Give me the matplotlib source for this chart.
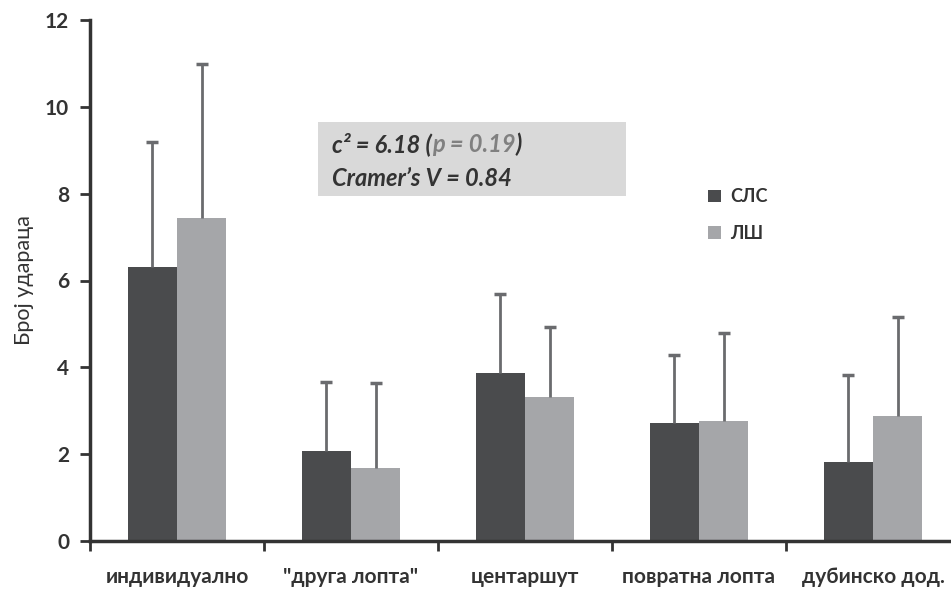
import numpy as np
from matplotlib import pyplot as plt

plt.rcParams['font.family'] = ['Lato', 'DejaVu Sans']

categories = ['индивидуално', '"друга лопта"', 'центаршут', 'повратна лопта', 'дубинско дод.']
sls_mean = [6.30, 2.07, 3.86, 2.71, 1.82]
sls_err = [2.90, 1.59, 1.84, 1.57, 2.00]
ls_mean = [7.45, 1.68, 3.31, 2.76, 2.87]
ls_err = [3.54, 1.95, 1.61, 2.02, 2.30]

fig = plt.figure(figsize=(9.51, 5.92), dpi=100)
ax = fig.add_axes([90/951, 51/592, 870/951, 521/592])

x = np.arange(len(categories))
w = 0.283
ecol = '#6a6b6e'
for xs, m, e, col, lab in [(x - w/2, sls_mean, sls_err, '#4a4b4d', 'СЛС'),
                           (x + w/2, ls_mean, ls_err, '#a5a6a9', 'ЛШ')]:
    ax.bar(xs, m, w, color=col, label=lab, zorder=2)
    top = np.array(m) + np.array(e)
    ax.vlines(xs, m, top, color=ecol, linewidth=2, zorder=3)
    ax.plot(xs, top, linestyle='none', marker='_', markersize=8, markeredgewidth=2.5,
            color=ecol, zorder=3)

ax.set_xlim(-0.5, 4.5)
ax.set_ylim(0, 12)
ax.set_yticks(range(0, 13, 2))
ax.set_xticks(x)
ax.set_xticklabels(categories, fontsize=15, fontweight='bold', color='#333333')
ax.set_xticks(np.arange(-0.5, 4.6, 1), minor=True)
ax.tick_params(axis='x', which='major', length=0, pad=19)
ax.tick_params(axis='x', which='minor', length=7, width=2, color='#333333')
ax.tick_params(axis='y', length=7, width=2, color='#333333', labelsize=15, pad=8)
for t in ax.get_yticklabels():
    t.set_fontweight('bold')
    t.set_color('#333333')

for s in ['top', 'right']:
    ax.spines[s].set_visible(False)
for s in ['left', 'bottom']:
    ax.spines[s].set_linewidth(2.5)
    ax.spines[s].set_color('#333333')

ax.set_ylabel('Број удараца', fontsize=15.5, color='#333333', labelpad=8)

# stats box
ax.add_patch(plt.Rectangle((318/951, 396/592), 308/951, 74/592, transform=fig.transFigure,
                           facecolor='#d9d9d9', edgecolor='none', zorder=0, clip_on=False))
tkw = dict(fontsize=17, fontweight='bold', style='italic')
t1 = fig.text(332/951, 440/592, 'c² = 6.18 (', color='#333333', va='baseline', **tkw)
t2 = ax.annotate('p = 0.19', xy=(1, 0), xycoords=t1, va='bottom', ha='left',
                 color='#808080', **tkw)
ax.annotate(')', xy=(1, 0), xycoords=t2, va='bottom', ha='left', color='#333333', **tkw)
fig.text(332/951, 406/592, 'Cramer’s V = 0.84', color='#333333', va='baseline', **tkw)

leg = ax.legend(loc='upper left', bbox_to_anchor=(692/951, (592-172)/592),
                bbox_transform=fig.transFigure, frameon=False, handlelength=0.7,
                handleheight=0.7, handletextpad=0.5, labelspacing=1.1,
                prop={'weight': 'bold', 'size': 13})
for t in leg.get_texts():
    t.set_color('#333333')

fig.savefig('out.png', dpi=100)
